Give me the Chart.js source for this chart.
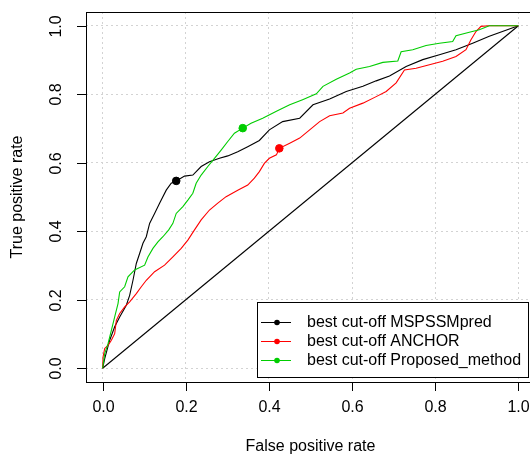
<!DOCTYPE html>
<html>
<head>
<meta charset="utf-8">
<script src="https://cdn.jsdelivr.net/npm/chart.js@4/dist/chart.umd.min.js"></script>
<style>
  html, body { margin: 0; padding: 0; background: #fff; overflow: hidden; }
  #wrap { width: 530px; height: 454px; overflow: hidden; }
</style>
</head>
<body>
<div id="wrap"><canvas id="roc" width="540" height="454"></canvas></div>
<script>
// ROC curves (false positive rate / true positive rate)
var mspFpr = [0, 0.005, 0.017, 0.029, 0.041, 0.057, 0.065, 0.073, 0.081, 0.089, 0.097, 0.105, 0.113, 0.125, 0.137, 0.153, 0.165, 0.177, 0.197, 0.217, 0.237, 0.257, 0.281, 0.301, 0.325, 0.349, 0.377, 0.401, 0.433, 0.474, 0.506, 0.546, 0.586, 0.626, 0.658, 0.690, 0.730, 0.770, 0.810, 0.850, 0.890, 0.930, 1];
var mspTpr = [0, 0.028, 0.082, 0.121, 0.150, 0.184, 0.213, 0.257, 0.306, 0.335, 0.365, 0.384, 0.423, 0.452, 0.482, 0.520, 0.540, 0.547, 0.561, 0.564, 0.589, 0.603, 0.613, 0.620, 0.632, 0.647, 0.665, 0.696, 0.720, 0.730, 0.769, 0.786, 0.808, 0.823, 0.839, 0.853, 0.881, 0.901, 0.915, 0.930, 0.949, 0.969, 1];

var anchorFpr = [0, 0.001, 0.005, 0.013, 0.021, 0.029, 0.033, 0.041, 0.053, 0.065, 0.081, 0.093, 0.105, 0.125, 0.149, 0.169, 0.189, 0.205, 0.221, 0.237, 0.257, 0.277, 0.297, 0.325, 0.349, 0.365, 0.377, 0.389, 0.401, 0.418, 0.425, 0.450, 0.474, 0.498, 0.522, 0.546, 0.578, 0.594, 0.626, 0.658, 0.682, 0.706, 0.726, 0.754, 0.786, 0.818, 0.850, 0.874, 0.886, 0.898, 0.910, 0.930, 1];
var anchorTpr = [0, 0.033, 0.058, 0.067, 0.082, 0.101, 0.140, 0.160, 0.179, 0.194, 0.218, 0.238, 0.257, 0.282, 0.301, 0.325, 0.350, 0.374, 0.404, 0.433, 0.462, 0.482, 0.501, 0.520, 0.535, 0.555, 0.574, 0.598, 0.613, 0.623, 0.642, 0.657, 0.672, 0.696, 0.720, 0.737, 0.745, 0.759, 0.774, 0.793, 0.808, 0.833, 0.871, 0.876, 0.886, 0.896, 0.910, 0.930, 0.959, 0.983, 0.998, 1, 1];

var propFpr = [0, 0.005, 0.013, 0.021, 0.029, 0.037, 0.041, 0.053, 0.061, 0.077, 0.101, 0.109, 0.121, 0.133, 0.145, 0.159, 0.169, 0.177, 0.193, 0.205, 0.217, 0.225, 0.237, 0.253, 0.269, 0.285, 0.301, 0.317, 0.337, 0.357, 0.385, 0.418, 0.450, 0.481, 0.514, 0.530, 0.562, 0.594, 0.610, 0.642, 0.674, 0.710, 0.718, 0.746, 0.778, 0.810, 0.842, 0.850, 0.882, 0.906, 0.930, 1];
var propTpr = [0, 0.043, 0.072, 0.111, 0.150, 0.189, 0.223, 0.238, 0.267, 0.287, 0.301, 0.325, 0.350, 0.369, 0.384, 0.404, 0.423, 0.452, 0.472, 0.491, 0.511, 0.540, 0.564, 0.589, 0.613, 0.637, 0.662, 0.686, 0.701, 0.715, 0.730, 0.750, 0.769, 0.784, 0.801, 0.823, 0.844, 0.862, 0.873, 0.881, 0.893, 0.897, 0.924, 0.930, 0.942, 0.949, 0.954, 0.971, 0.981, 0.988, 1, 1];

// best cut-off points [fpr, tpr]
var bestMsp = [0.177, 0.547];
var bestAnchor = [0.425, 0.642];
var bestProp = [0.337, 0.701];

var tickValues = [0, 0.2, 0.4, 0.6, 0.8, 1.0];
var tickLabels = ['0.0', '0.2', '0.4', '0.6', '0.8', '1.0'];
var legendLabels = ['best cut-off MSPSSMpred', 'best cut-off ANCHOR', 'best cut-off Proposed_method'];
var seriesColors = ['#000000', '#ff0000', '#00cd00'];

var FONT = '16px "Liberation Sans", Arial, sans-serif';

function toPoints(xs, ys) {
  return xs.map(function(x, i) { return {x: x, y: ys[i]}; });
}

function curve(xs, ys, color, order) {
  return {
    data: toPoints(xs, ys),
    showLine: true,
    borderColor: color,
    borderWidth: 1.1,
    pointRadius: 0,
    tension: 0,
    order: order
  };
}

function bestPoint(p, color) {
  return {
    data: [{x: p[0], y: p[1]}],
    showLine: false,
    pointRadius: 3.8,
    pointBackgroundColor: color,
    pointBorderColor: color,
    order: 0
  };
}

// R-style box, ticks, labels, titles and legend
var rAxes = {
  id: 'rAxes',
  afterDraw: function(chart) {
    var ctx = chart.ctx;
    var a = chart.chartArea;
    var xs = chart.scales.x, ys = chart.scales.y;
    ctx.save();
    ctx.strokeStyle = '#000';
    ctx.lineWidth = 1;
    ctx.strokeRect(Math.round(a.left) + 0.5, Math.round(a.top) + 0.5, a.right - a.left, a.bottom - a.top);

    ctx.font = FONT;
    ctx.fillStyle = '#000';
    ctx.textAlign = 'center';
    ctx.textBaseline = 'middle';
    tickValues.forEach(function(v, i) {
      var px = Math.round(xs.getPixelForValue(v)) + 0.5;
      ctx.beginPath();
      ctx.moveTo(px, a.bottom);
      ctx.lineTo(px, a.bottom + 9);
      ctx.stroke();
      ctx.fillText(tickLabels[i], px, 408);

      var py = Math.round(ys.getPixelForValue(v)) + 0.5;
      ctx.beginPath();
      ctx.moveTo(a.left, py);
      ctx.lineTo(a.left - 9, py);
      ctx.stroke();
      ctx.save();
      ctx.translate(57, py);
      ctx.rotate(-Math.PI / 2);
      ctx.fillText(tickLabels[i], 0, 0);
      ctx.restore();
    });

    ctx.fillText('False positive rate', (a.left + a.right) / 2, 447);
    ctx.save();
    ctx.translate(18, (a.top + a.bottom) / 2);
    ctx.rotate(-Math.PI / 2);
    ctx.fillText('True positive rate', 0, 0);
    ctx.restore();

    // legend
    var lx = 257.5, ly = 302.5, lw = 271, lh = 75;
    ctx.fillStyle = '#fff';
    ctx.fillRect(lx, ly, lw, lh);
    ctx.strokeRect(lx, ly, lw, lh);
    ctx.textAlign = 'left';
    legendLabels.forEach(function(lab, i) {
      var y = 322 + i * 19;
      ctx.strokeStyle = seriesColors[i];
      ctx.beginPath();
      ctx.moveTo(261, y + 0.5);
      ctx.lineTo(291, y + 0.5);
      ctx.stroke();
      ctx.fillStyle = seriesColors[i];
      ctx.beginPath();
      ctx.arc(277, y + 0.5, 2.8, 0, Math.PI * 2);
      ctx.fill();
      ctx.fillStyle = '#000';
      ctx.fillText(lab, 307, y + 1);
    });
    ctx.restore();
  }
};

var gridOpts = {
  color: '#d3d3d3',
  lineWidth: 1,
  drawTicks: false
};

new Chart(document.getElementById('roc'), {
  type: 'scatter',
  data: {
    datasets: [
      curve([0, 1], [0, 1], '#000000', 4),
      curve(mspFpr, mspTpr, seriesColors[0], 3),
      curve(anchorFpr, anchorTpr, seriesColors[1], 2),
      curve(propFpr, propTpr, seriesColors[2], 1),
      bestPoint(bestMsp, seriesColors[0]),
      bestPoint(bestAnchor, seriesColors[1]),
      bestPoint(bestProp, seriesColors[2])
    ]
  },
  options: {
    responsive: false,
    animation: false,
    layout: { padding: { top: 12, right: 0, left: 0, bottom: 0 } },
    plugins: { legend: { display: false }, tooltip: { enabled: false } },
    scales: {
      x: {
        type: 'linear',
        min: -0.04, max: 1.04,
        afterBuildTicks: function(s) { s.ticks = tickValues.map(function(v) { return {value: v}; }); },
        afterFit: function(s) { s.height = 72; },
        ticks: { display: false },
        border: { display: false, dash: [2, 3] },
        grid: Object.assign({}, gridOpts)
      },
      y: {
        type: 'linear',
        min: -0.04, max: 1.04,
        afterBuildTicks: function(s) { s.ticks = tickValues.map(function(v) { return {value: v}; }); },
        afterFit: function(s) { s.width = 86; },
        ticks: { display: false },
        border: { display: false, dash: [2, 3] },
        grid: Object.assign({}, gridOpts)
      }
    }
  },
  plugins: [rAxes]
});
</script>
</body>
</html>
